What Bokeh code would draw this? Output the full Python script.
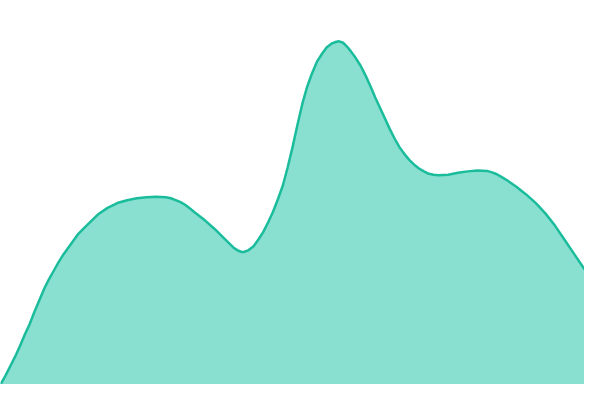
from bokeh.plotting import figure
from bokeh.models import Range1d, ColumnDataSource
from bokeh.embed import file_html
from bokeh.resources import INLINE

# positions along the horizontal axis and series heights
xs = [0, 5, 10, 15, 20, 25, 30, 35, 40, 45, 50, 55, 60, 65, 70, 75, 80, 85, 90, 95,
      100, 110, 120, 130, 140, 150, 160, 170, 175, 180, 185, 190, 195, 200, 210, 220,
      230, 235, 240, 245, 248, 250, 255, 260, 265, 270, 275, 280, 285, 290, 295, 300,
      305, 310, 315, 320, 325, 330, 335, 340, 345, 348, 352, 356, 360, 365, 370, 375,
      380, 385, 390, 395, 400, 405, 410, 415, 420, 425, 430, 435, 440, 445, 450, 460,
      470, 480, 490, 500, 505, 510, 515, 520, 530, 540, 550, 560, 570, 580, 590, 600]
heights = [0, 9, 19, 29, 40, 52, 63, 76, 88, 100, 110, 119, 128, 136, 143, 150, 157, 162, 167, 172,
           177, 184, 189, 192, 194, 195, 195.5, 195, 194, 192, 190, 187, 183, 179, 171, 162,
           152, 147, 142, 139, 138, 138, 140, 144, 151, 159, 169, 180, 193, 207, 226, 247,
           270, 292, 310, 324, 336, 344, 351, 355, 357, 357.5, 356, 352, 347, 340, 332, 322,
           311, 299, 288, 277, 266, 256, 247, 240, 234, 229, 225, 222, 219.5, 218.5, 218, 218.5,
           220.5, 222, 223, 222.5, 221, 219, 216, 213, 206, 198, 189, 178, 165, 150, 135, 120]

source = ColumnDataSource(data=dict(x=xs, y=heights, base=[0] * len(xs)))

p = figure(width=584, height=384, output_backend="svg", toolbar_location=None,
           x_range=Range1d(0, 600), y_range=Range1d(0, 400),
           min_border=0, min_border_left=0, min_border_right=0,
           min_border_top=0, min_border_bottom=0)
p.axis.visible = False
p.grid.visible = False
p.outline_line_color = None
p.background_fill_color = "white"
p.border_fill_color = "white"

p.varea(x="x", y1="base", y2="y", source=source, fill_color="#89e0d0")
p.line(x="x", y="y", source=source, line_color="#1abc9c", line_width=2.5,
       line_join="round", line_cap="round")

open("out.html", "w").write(file_html(p, INLINE))
